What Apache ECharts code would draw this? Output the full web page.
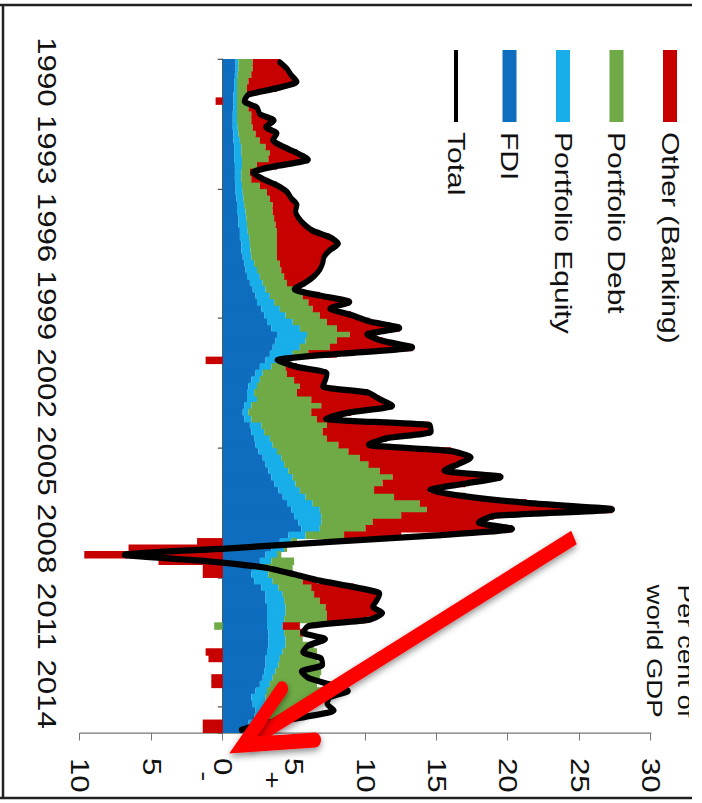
<!DOCTYPE html>
<html>
<head>
<meta charset="utf-8">
<script src="https://cdn.jsdelivr.net/npm/echarts@6/dist/echarts.min.js"></script>
<style>
html,body{margin:0;padding:0;background:#fff;overflow:hidden;width:702px;height:803px;}
#wrap{position:absolute;left:0;top:0;width:642px;height:702px;transform-origin:0 0;transform:translate(702px,0) rotate(90deg) scale(1.25,1);}
#chart{width:642px;height:702px;}
</style>
</head>
<body>
<div id="wrap"><div id="chart"></div></div>
<script>
// ---- data (quarterly, 1990Q1 .. 2015Q4), per cent of world GDP ----
const years = [1990,1991,1992,1993,1994,1995,1996,1997,1998,1999,2000,2001,2002,2003,2004,2005,2006,2007,2008,2009,2010,2011,2012,2013,2014,2015];
const quarterNames = ['Q1','Q2','Q3','Q4'];

const fdi = [0.9,0.9,0.85,0.8, 0.8,0.75,0.75,0.75, 0.7,0.7,0.7,0.75, 0.75,0.8,0.8,0.8, 0.85,0.85,0.85,0.9, 0.9,0.95,1.0,1.0,
  1.1,1.1,1.2,1.2, 1.3,1.3,1.4,1.5, 1.6,1.7,1.9,2.1, 2.3,2.4,2.7,2.9, 3.1,3.4,3.8,3.7, 3.5,3.3,3.0,2.6, 2.3,2.0,1.8,1.7,
  1.7,1.5,1.4,1.5, 1.9,2.0,2.2,2.3, 2.5,2.8,3.0,3.2, 3.4,3.6,3.9,4.2, 4.5,4.8,5.0,5.3, 5.5,4.6,4.0,3.4, 3.0,2.6,2.1,2.0,
  2.2,2.7,3.0,3.0, 3.1,3.1,3.1,3.1, 3.2,3.2,3.2,3.1, 3.0,3.0,2.9,2.8, 2.6,2.3,2.0,2.1, 2.3,2.2,1.8,1.6];

const equity = [0.2,0.2,0.2,0.2, 0.2,0.25,0.25,0.25, 0.3,0.3,0.35,0.35, 0.45,0.5,0.5,0.55, 0.5,0.45,0.45,0.45, 0.5,0.5,0.5,0.6,
  0.55,0.6,0.55,0.65, 0.6,0.65,0.6,0.7, 0.8,0.9,0.9,0.9, 1.0,1.2,1.3,1.5, 1.8,2.0,2.1,2.1, 1.9,1.6,1.2,0.8, 0.5,0.6,0.6,0.5,
  0.7,0.5,0.4,0.5, 0.8,0.9,1.1,1.2, 1.3,1.3,1.3,1.4, 1.5,1.5,1.5,1.6, 1.8,2.0,1.9,1.6, 1.3,1.2,0.8,0.9, 0.8,0.8,0.9,1.2,
  1.3,1.2,1.2,1.3, 1.3,1.3,1.2,1.1, 1.1,1.2,1.2,1.1, 1.0,0.9,0.8,0.7, 0.7,0.8,1.0,0.9, 0.8,0.7,0.8,0.8];

const debt = [1.0,1.0,0.95,0.8, 0.7,0.7,0.7,0.8, 1.0,1.0,1.05,1.2, 1.4,1.7,2.0,1.85, 1.05,0.6,0.7,1.25, 1.7,1.85,2.0,1.9,
  1.95,2.0,2.05,1.95, 1.9,1.85,1.8,1.8, 1.7,1.7,1.7,2.0, 2.3,2.4,2.3,2.4, 2.4,2.6,3.0,2.2, 2.1,1.1,0.6,1.0, 1.7,2.4,3.0,3.0,
  3.8,4.9,4.4,4.6, 4.6,4.1,4.0,4.6, 5.0,5.5,5.9,6.4, 7.0,6.1,5.2,6.2, 7.5,7.5,5.6,3.6, 3.2,2.7,0.4,0.2, 0.3,1.6,1.9,1.7,
  2.1,2.3,2.2,2.5, 2.8,2.9,3.0,-0.6, 1.1,1.2,2.0,2.4, 2.6,3.0,3.2,3.3, 3.3,3.8,3.9,3.5, 2.4,2.1,1.6,1.1];

const other = [1.9,2.4,2.8,3.4, 2.1,0.1,-0.5,0.6, 0.6,1.6,0.9,1.5, 0.9,1.2,1.9,2.8, 1.4,0.2,0.8,1.2, 1.4,1.5,1.7,1.6,
  1.7,2.0,2.5,3.7, 4.3,3.7,3.3,3.0, 2.7,2.1,1.3,0.1, 1.2,2.9,1.2,2.2, 3.0,4.4,1.2,3.2, 5.8,2.0,-1.2,0.8, 2.8,2.2,1.6,5.0,
  4.8,5.0,2.8,0.6, 7.2,7.6,4.2,2.1, 7.2,7.8,6.3,4.5, 7.6,5.8,3.9,5.0, 7.5,13.0,6.5,7.4, 10.3,4.0,-1.8,-6.6, -9.7,-4.5,-1.4,-1.4,
  1.0,3.0,4.5,4.0, 3.3,3.8,2.8,1.2, 0.3,0,0,-1.2, -1.0,0,0,-0.8, -0.8,0.4,0,0, 0,0,-1.4,-1.4];

const total = [4.0,4.5,4.8,5.2, 3.8,1.8,1.5,2.4, 2.6,3.6,3.0,3.8, 3.5,4.2,5.2,6.0, 3.8,2.1,2.8,3.8, 4.5,4.8,5.2,5.1,
  5.3,5.7,6.3,7.5, 8.1,7.5,7.1,7.0, 6.8,6.4,5.8,5.0, 6.8,8.9,7.5,9.0, 10.3,12.4,10.1,11.2, 13.3,8.0,3.8,5.2, 7.3,7.2,7.0,10.2,
  11.0,11.9,9.0,7.2, 14.5,14.6,11.5,10.2, 16.0,17.4,16.5,15.5, 19.5,17.0,14.5,17.0, 21.3,27.3,19.0,17.9, 20.3,15.0,7.5,0.5,
  -6.9,-1.0,3.0,5.0, 6.8,9.2,11.0,10.8, 10.5,11.2,10.3,6.0, 5.6,7.2,6.0,5.6, 6.9,7.0,5.5,6.0, 7.5,8.8,7.5,7.3, 7.8,5.8,3.0,1.3];

const valueAxisMin = -10, valueAxisMax = 30, valueAxisStep = 5;
const legendOrder = ['Other (Banking)','Portfolio Debt','Portfolio Equity','FDI','Total'];
const unitLines = ['Per cent of','world GDP'];

// ---- build ----
const quarters = [];
years.forEach(y => quarterNames.forEach(q => quarters.push(y + q)));

const FONT = "'Liberation Sans', Arial, Helvetica, sans-serif";
const colors = {'FDI':'#0E6DBE','Portfolio Equity':'#17AEEA','Portfolio Debt':'#6FAA46','Other (Banking)':'#C70000','Total':'#000000'};

const W = 642, H = 702;
const gridL = 47.2, gridR = 55.6;
const bandW = (W - gridL - gridR) / quarters.length;

function barSeries(name, data){
  return {
    name, type:'bar', stack:'flows',
    data: data.map(v => v === 0 ? '-' : v),
    barWidth: bandW + 0.8,
    itemStyle:{color:colors[name]},
    emphasis:{disabled:true}, z:2
  };
}

const chart = echarts.init(document.getElementById('chart'), null, {renderer:'svg', width:W, height:H});
const txt = {fontFamily:FONT, fill:'#111'};
chart.setOption({
  animation:false,
  backgroundColor:'#ffffff',
  textStyle:{fontFamily:FONT},
  grid:{left:gridL, right:gridR, top:51, bottom:80, containLabel:false, outerBoundsMode:'none'},
  legend:{
    orient:'vertical', left:40, top:20, padding:0,
    itemWidth:57.6, itemHeight:14, itemGap:29.5, icon:'rect',
    textStyle:{fontFamily:FONT, fontSize:24, lineHeight:24, color:'#111', padding:[0,0,0,3]},
    data: legendOrder.map(n => n === 'Total' ? {name:n, icon:'path://M0,0L58,0L58,4L0,4Z'} : {name:n})
  },
  xAxis:[
    {type:'category', data:quarters, boundaryGap:true, position:'bottom',
     axisLine:{show:true, onZero:true, lineStyle:{color:'#555', width:1}},
     axisTick:{show:true, interval:19, length:5, lineStyle:{color:'#555', width:1}},
     axisLabel:{show:false}, splitLine:{show:false}},
    {type:'category', data:years, boundaryGap:true, position:'bottom',
     axisLine:{show:false, onZero:false}, axisTick:{show:false},
     axisLabel:{show:true, interval:2, fontSize:25, margin:21, color:'#111', fontFamily:FONT},
     splitLine:{show:false}}
  ],
  yAxis:{
    type:'value', position:'right', min:valueAxisMin, max:valueAxisMax, interval:valueAxisStep,
    axisLine:{show:true, lineStyle:{color:'#777', width:1}},
    axisTick:{show:true, length:6, lineStyle:{color:'#777', width:1}},
    axisLabel:{margin:20, fontSize:25, color:'#111', fontFamily:FONT, formatter: v => String(Math.abs(v))},
    splitLine:{show:false}
  },
  series:[
    barSeries('FDI', fdi),
    barSeries('Portfolio Equity', equity),
    barSeries('Portfolio Debt', debt),
    barSeries('Other (Banking)', other),
    {name:'Total', type:'line', data:total, smooth:0.2, symbol:'none', showSymbol:false,
     lineStyle:{color:'#000', width:5, join:'round', cap:'round'}, itemStyle:{color:'#000'},
     emphasis:{disabled:true}, z:5}
  ],
  graphic:[
    {type:'rect', z:90, silent:true, shape:{x:0, y:0, width:W, height:13}, style:{fill:'#fff'}},
    {type:'line', z:95, silent:true, shape:{x1:4, y1:10, x2:4, y2:H}, style:{stroke:'#222', lineWidth:2}},
    {type:'line', z:95, silent:true, shape:{x1:638.4, y1:10, x2:638.4, y2:H}, style:{stroke:'#222', lineWidth:2}},
    {type:'line', z:95, silent:true, shape:{x1:4, y1:699, x2:638.4, y2:699}, style:{stroke:'#222', lineWidth:2.5}},
    {type:'text', z:80, silent:true, x:574, y:16, style:Object.assign({text:unitLines[0], fontSize:22, align:'right', verticalAlign:'middle'}, txt)},
    {type:'text', z:80, silent:true, x:574, y:47, style:Object.assign({text:unitLines[1], fontSize:22, align:'right', verticalAlign:'middle'}, txt)},
    {type:'text', z:80, silent:true, x:621, y:497, style:Object.assign({text:'-', fontSize:24, align:'center', verticalAlign:'middle'}, txt)},
    {type:'text', z:80, silent:true, x:624, y:430, style:Object.assign({text:'+', fontSize:24, align:'center', verticalAlign:'middle'}, txt)},
    {type:'polyline', z:85, silent:true, shape:{points:[[430,128],[594,455]]},
     style:{stroke:'#FF0000', fill:null, lineWidth:12, lineCap:'butt', shadowBlur:6, shadowColor:'rgba(0,0,0,0.45)', shadowOffsetX:2.5, shadowOffsetY:0}},
    {type:'polyline', z:86, silent:true, shape:{points:[[551,420],[596,459],[592,387]]},
     style:{stroke:'#FF0000', fill:null, lineWidth:12, lineJoin:'miter', lineCap:'round', shadowBlur:6, shadowColor:'rgba(0,0,0,0.45)', shadowOffsetX:2.5, shadowOffsetY:0}}
  ]
});
</script>
</body>
</html>
